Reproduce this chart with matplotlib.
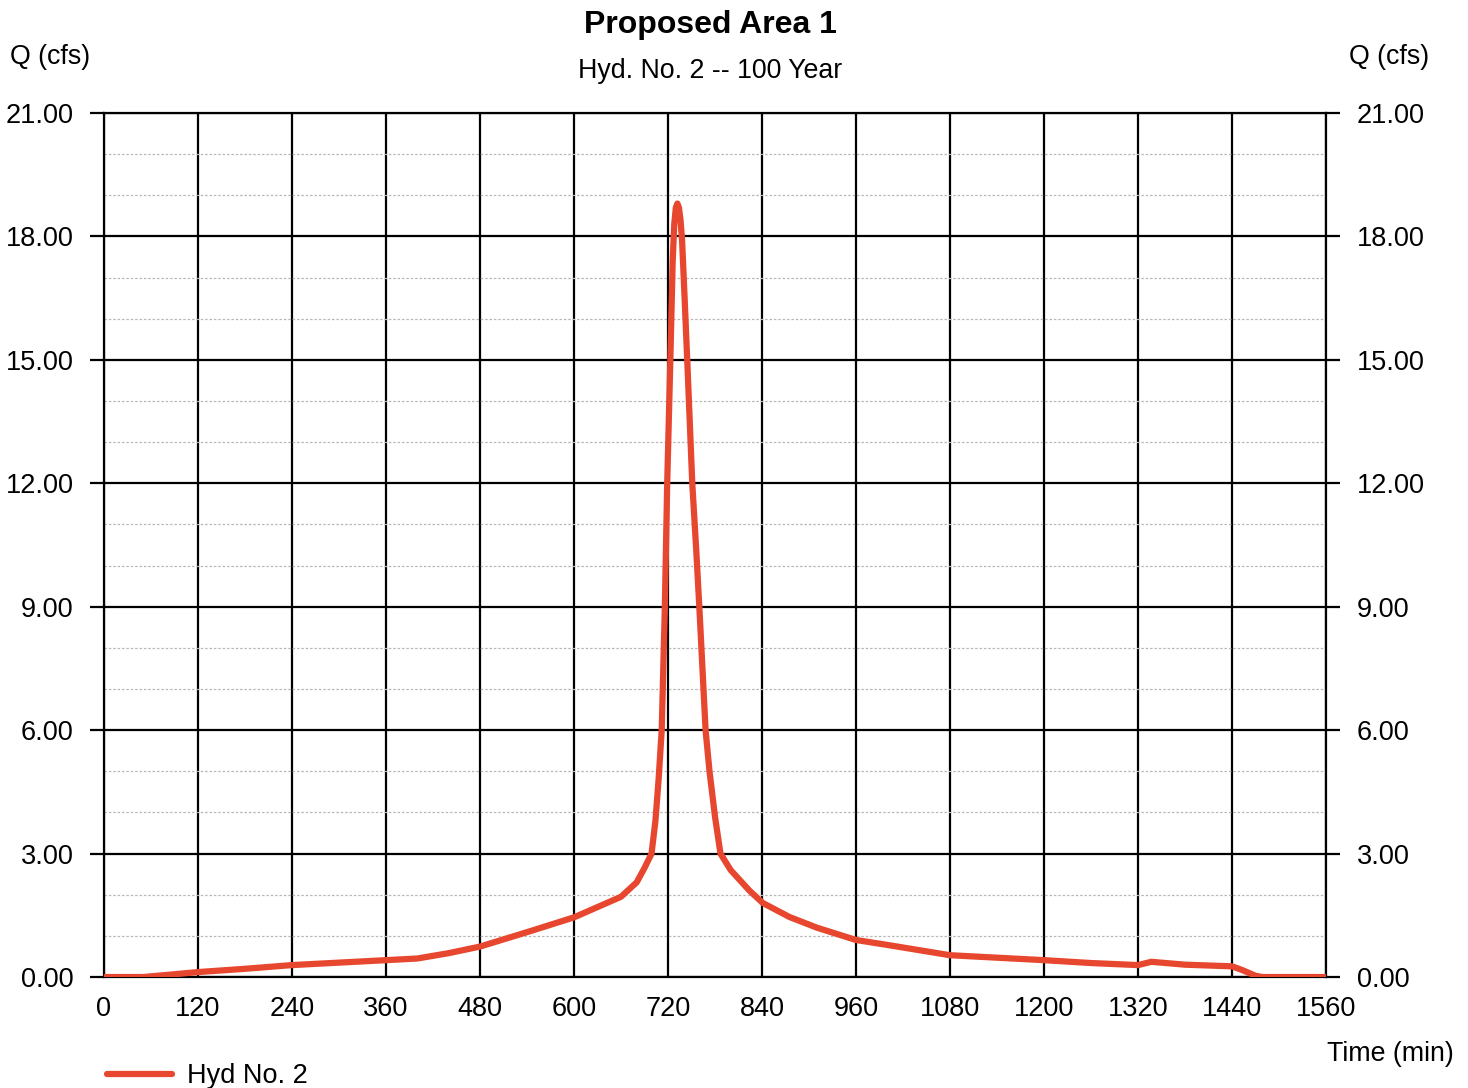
import numpy as np
import matplotlib
matplotlib.use('Agg')
import matplotlib.pyplot as plt
from matplotlib.ticker import MultipleLocator, FormatStrFormatter

plt.rcParams['font.family'] = ['Liberation Sans', 'DejaVu Sans']

# hydrograph: time (min) and flow (cfs)
time_min = [0, 50, 80, 120, 180, 240, 300, 360, 400, 440, 480, 540, 600, 630,
            660, 680, 690, 699, 704, 708, 712, 716, 719, 723, 726, 728, 730,
            732, 734, 736, 738, 741, 745, 751, 756, 760, 764, 768, 773, 780,
            787, 800, 824, 841, 875, 910, 960, 1000, 1080, 1140, 1200, 1260,
            1320, 1337, 1380, 1440, 1453, 1470, 1479, 1560]
flow_cfs = [0, 0, 0.05, 0.12, 0.2, 0.29, 0.35, 0.41, 0.45, 0.58, 0.74, 1.09,
            1.45, 1.7, 1.95, 2.3, 2.65, 3.0, 3.8, 4.8, 6.0, 9.0, 12.0, 15.0,
            17.4, 18.3, 18.7, 18.8, 18.7, 18.4, 17.9, 16.6, 14.8, 12.0, 10.4,
            9.0, 7.5, 6.0, 5.0, 3.9, 3.0, 2.6, 2.1, 1.8, 1.46, 1.2, 0.9, 0.78,
            0.53, 0.47, 0.41, 0.34, 0.29, 0.37, 0.3, 0.26, 0.17, 0.03, 0, 0]

x_ticks = list(range(0, 1561, 120))
y_ticks = [0, 3, 6, 9, 12, 15, 18, 21]

fig = plt.figure(figsize=(14.68, 10.88), dpi=100)
ax = fig.add_axes([0.0708, 0.102, 0.8325, 0.7941])

ax.set_xlim(0, 1560)
ax.set_ylim(0, 21)
ax.set_xticks(x_ticks)
ax.set_yticks(y_ticks)
ax.yaxis.set_major_formatter(FormatStrFormatter('%.2f'))
ax.yaxis.set_minor_locator(MultipleLocator(1))

# grid: heavy black major lines, faint dotted minor lines for every cfs
ax.grid(which='major', color='black', linewidth=1.6)
ax.grid(which='minor', axis='y', color='#b8b8b8', linewidth=0.9, linestyle=(0, (2, 1.5)))
ax.set_axisbelow(True)
for s in ax.spines.values():
    s.set_color('black')
    s.set_linewidth(1.6)

ax.tick_params(axis='y', which='major', direction='out', length=10, width=1.6,
               labelsize=19.5, left=True, right=True, labelleft=True, labelright=True, pad=12)
ax.tick_params(axis='y', which='minor', length=0)
ax.tick_params(axis='x', length=0, labelsize=19.5, pad=14)

ax.plot(time_min, flow_cfs, color='#e8472f', linewidth=4.5, solid_capstyle='round',
        solid_joinstyle='round', label='Hyd No. 2', zorder=3)

fig.text(0.4837, 0.977, 'Proposed Area 1', ha='center', va='center', fontsize=23, fontweight='bold')
fig.text(0.4837, 0.935, 'Hyd. No. 2 -- 100 Year', ha='center', va='center', fontsize=19.3)
fig.text(0.007, 0.948, 'Q (cfs)', ha='left', va='center', fontsize=19.3)
fig.text(0.919, 0.948, 'Q (cfs)', ha='left', va='center', fontsize=19.3)
fig.text(0.904, 0.031, 'Time (min)', ha='left', va='center', fontsize=19.3)

ax.legend(loc='center left', bbox_to_anchor=(0.0565, 0.011), bbox_transform=fig.transFigure,
          frameon=False, fontsize=19.5, handlelength=2.4, handletextpad=0.55)

fig.savefig('out.png', dpi=100)
